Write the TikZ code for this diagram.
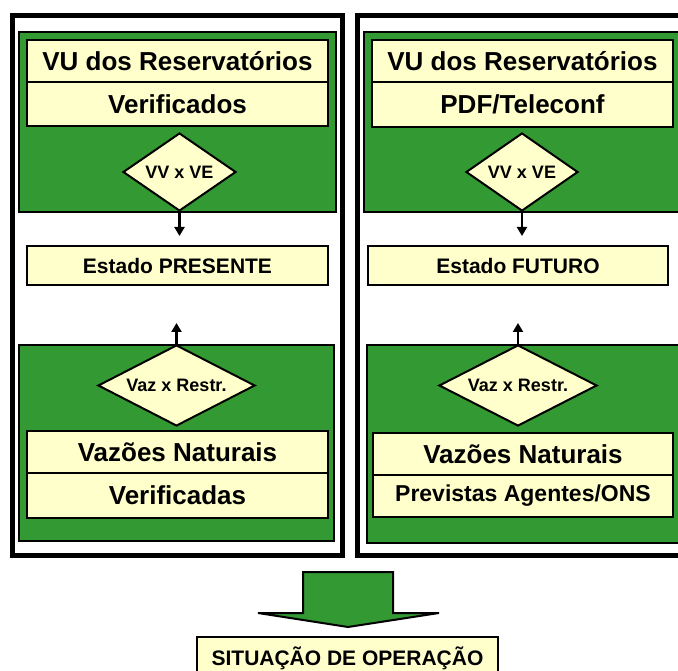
\documentclass[tikz,border=0pt]{standalone}
\usepackage{fontspec}
\setmainfont{Liberation Sans}
\usetikzlibrary{shapes.geometric,arrows.meta}
\definecolor{grn}{HTML}{339933}
\definecolor{ylw}{HTML}{FFFFCC}
\tikzset{
  frame/.style={draw=black, line width=5pt},
  panel/.style={draw=black, fill=grn, line width=2pt},
  ybox/.style={draw=black, fill=ylw, line width=2pt, inner sep=0pt, font=\bfseries},
  big/.style={font=\fontsize{26}{28}\selectfont\bfseries},
  mid/.style={font=\fontsize{21}{23}\selectfont\bfseries},
  sm/.style={font=\fontsize{18}{20}\selectfont\bfseries},
  dia/.style={diamond, draw=black, fill=ylw, line width=2pt, inner sep=0pt,
    label={[sm, inner sep=0pt]center:#1}},
  conn/.style={draw=black, line width=2.5pt, -{Triangle[length=9pt,width=10pt]}},
  bigarrow/.style={draw=black, fill=grn, line width=2pt, line join=miter}
}
\begin{document}
\begin{tikzpicture}[x=1pt,y=-1pt]
\useasboundingbox (0,0) rectangle (678,671);
\clip (0,0) rectangle (678,671);
\fill[white] (0,0) rectangle (678,671);

% outer frames
\draw[frame] (12.5,15.5) rectangle (342.5,555.5);
\draw[frame] (357.5,15.5) rectangle (700,555.5);

% green panels
\draw[panel] (19,32) rectangle (336,212);
\draw[panel] (364,32) rectangle (700,212);
\draw[panel] (19,345) rectangle (334,541);
\draw[panel] (367,345) rectangle (700,543);

% left top boxes
\node[ybox, big, minimum width=301pt, minimum height=42pt] (lt1) at (177.5,61) {VU dos Reservatórios};
\node[ybox, big, minimum width=301pt, minimum height=44pt] (lt2) at (177.5,104) {Verificados};
% right top boxes
\node[ybox, big, minimum width=301pt, minimum height=42pt] (rt1) at (522.5,61) {VU dos Reservatórios};
\node[ybox, big, minimum width=301pt, minimum height=45pt] (rt2) at (522.5,104.5) {PDF/Teleconf};

% top diamonds
\node[dia={VV x VE}, minimum width=113pt, minimum height=78pt] (dlt) at (179.5,172) {};
\node[dia={VV x VE}, minimum width=112pt, minimum height=78pt] (drt) at (522,172) {};

% estado boxes
\node[ybox, mid, minimum width=301pt, minimum height=39pt] (el) at (177.5,265.5) {Estado PRESENTE};
\node[ybox, mid, minimum width=300pt, minimum height=39pt] (er) at (518,265.5) {Estado FUTURO};

% bottom diamonds
\node[dia={Vaz x Restr.}, minimum width=157pt, minimum height=81pt] (dlb) at (176.5,385.5) {};
\node[dia={Vaz x Restr.}, minimum width=158pt, minimum height=81pt] (drb) at (518,385.5) {};

% bottom boxes
\node[ybox, big, minimum width=301pt, minimum height=42pt] (lb1) at (177.5,452) {Vazões Naturais};
\node[ybox, big, minimum width=301pt, minimum height=45pt] (lb2) at (177.5,495.5) {Verificadas};
\node[ybox, big, minimum width=300pt, minimum height=42pt] (rb1) at (523,454) {Vazões Naturais};
\node[ybox, font=\fontsize{23}{25}\selectfont\bfseries, minimum width=300pt, minimum height=42pt] (rb2) at (523,496) {Previstas Agentes/ONS};

% connectors
\draw[conn, shorten >=9pt] (dlt.south) -- (dlt.south |- el.north);
\draw[conn, shorten >=9pt] (drt.south) -- (drt.south |- er.north);
\draw[conn, shorten >=37pt] (dlb.north) -- (dlb.north |- el.south);
\draw[conn, shorten >=37pt] (drb.north) -- (drb.north |- er.south);

% big arrow
\draw[bigarrow] (303,572) -- (393,572) -- (393,613) -- (439,613) -- (348,627) -- (258,613) -- (303,613) -- cycle;

% situation box
\node[ybox, mid, minimum width=301pt, minimum height=43pt] (sit) at (347.5,658.5) {SITUAÇÃO DE OPERAÇÃO};
\end{tikzpicture}
\end{document}
